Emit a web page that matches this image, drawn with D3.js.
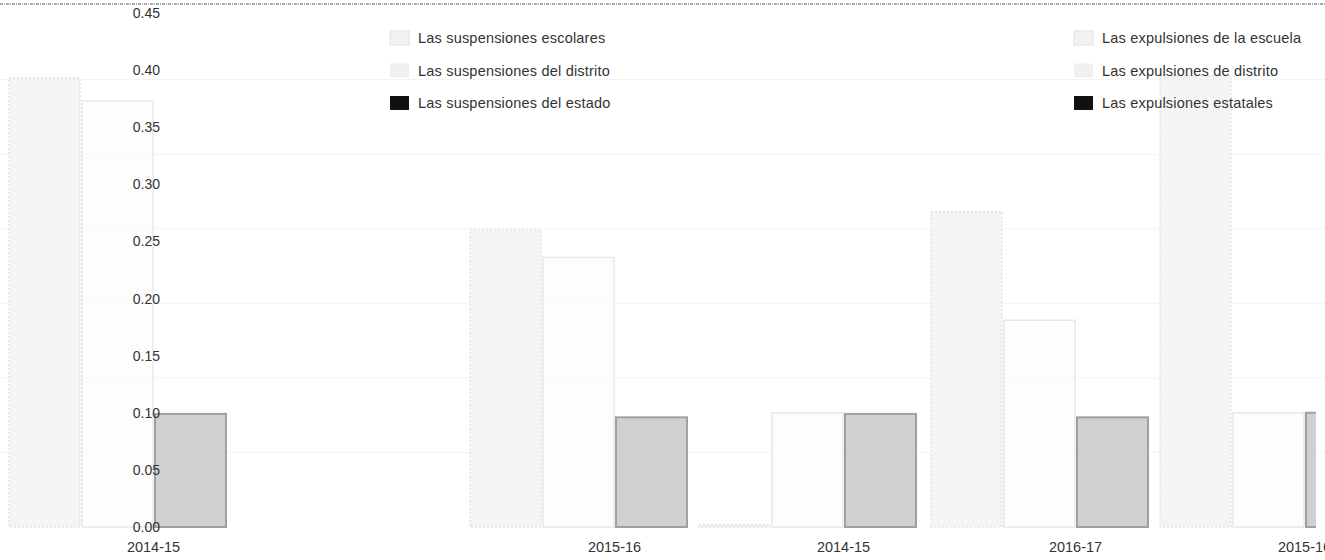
<!DOCTYPE html>
<html>
<head>
<meta charset="utf-8">
<script src="https://cdn.jsdelivr.net/npm/d3@7"></script>
<style>
  html, body { margin: 0; padding: 0; background: #fff; overflow: hidden; }
  svg { display: block; font-family: "Liberation Sans", Arial, sans-serif; }
</style>
</head>
<body>
<svg id="chart" width="1325" height="560"></svg>
<script>
// ---- data ----
const years = ["2014-15", "2015-16", "2016-17"];
const suspensionSeries = ["Las suspensiones escolares", "Las suspensiones del distrito", "Las suspensiones del estado"];
const expulsionSeries = ["Las expulsiones de la escuela", "Las expulsiones de distrito", "Las expulsiones estatales"];
const suspSchool   = [0.393, 0.260, 0.276];
const suspDistrict = [0.373, 0.236, 0.181];
const suspState    = [0.099, 0.096, 0.096];
const expSchool    = [0.002, 0.395, null];
const expDistrict  = [0.100, 0.100, null];
const expState     = [0.099, 0.100, null];
const yTicks = [0, 0.05, 0.10, 0.15, 0.20, 0.25, 0.30, 0.35, 0.40, 0.45];
const gridLevels = [0.05, 0.10, 0.15, 0.20, 0.25, 0.30];

// ---- scales ----
const svg = d3.select("#chart");
const y = d3.scaleLinear().domain([0, 0.45]).range([527, 13]);
const yGrid = d3.scaleLinear().domain([0, 0.35]).range([527, 5]);
const xSusp = d3.scalePoint().domain(years).range([153, 1075]);
const xExp = d3.scalePoint().domain(years).range([843, 1765]);
const inner = d3.scaleBand().domain([0, 1, 2]).range([-145, 74]);

const defs = svg.append("defs");
const pat = defs.append("pattern").attr("id", "speckle").attr("width", 6).attr("height", 6)
  .attr("patternUnits", "userSpaceOnUse");
pat.append("rect").attr("width", 6).attr("height", 6).attr("fill", "#f3f3f3");
pat.append("rect").attr("x", 1).attr("y", 1).attr("width", 1).attr("height", 1).attr("fill", "#e4e4e4");
pat.append("rect").attr("x", 4).attr("y", 3).attr("width", 1).attr("height", 1).attr("fill", "#e8e8e8");
pat.append("rect").attr("x", 2).attr("y", 5).attr("width", 1).attr("height", 1).attr("fill", "#e6e6e6");
defs.append("clipPath").attr("id", "clip").append("rect").attr("x", 0).attr("y", 0).attr("width", 1316).attr("height", 560);

// faint gridlines
svg.append("g").selectAll("line").data(gridLevels).join("line")
  .attr("x1", 0).attr("x2", 1325)
  .attr("y1", d => yGrid(d)).attr("y2", d => yGrid(d))
  .attr("stroke", "#f4f4f4").attr("stroke-width", 1);

const styles = [
  { fill: "url(#speckle)", stroke: "#e2e2e2", dash: "2,2", sw: 1.5, op: 0.8 },
  { fill: "#fbfbfb", stroke: "#e8e8e8", dash: null, sw: 1.5, op: 0.6 },
  { fill: "#d0d0d0", stroke: "#a0a0a0", dash: null, sw: 2, op: 1 }
];

function drawBars(xScale, seriesArrays) {
  const g = svg.append("g").attr("clip-path", "url(#clip)");
  seriesArrays.forEach((vals, si) => {
    const data = years.map((yr, i) => ({ yr, v: vals[i] })).filter(d => d.v != null);
    const st = styles[si];
    g.append("g").selectAll("rect").data(data).join("rect")
      .attr("x", d => xScale(d.yr) + inner(si) + 1)
      .attr("width", inner.bandwidth() - 2)
      .attr("y", d => y(d.v))
      .attr("height", d => y(0) - y(d.v))
      .attr("fill", st.fill)
      .attr("fill-opacity", st.op)
      .attr("stroke", st.stroke)
      .attr("stroke-width", st.sw)
      .attr("stroke-dasharray", st.dash);
  });
}
drawBars(xSusp, [suspSchool, suspDistrict, suspState]);
drawBars(xExp, [expSchool, expDistrict, expState]);

// y axis
const yAxis = svg.append("g").attr("transform", "translate(161,0)")
  .call(d3.axisLeft(y).tickValues(yTicks).tickSize(0).tickPadding(1).tickFormat(d3.format(".2f")));
yAxis.select(".domain").remove();
yAxis.selectAll("text").attr("font-size", 14).attr("fill", "#333").attr("font-family", "Liberation Sans, Arial, sans-serif");

// x axes
[xSusp, xExp].forEach(xs => {
  const ax = svg.append("g").attr("transform", "translate(0,527)")
    .call(d3.axisBottom(xs).tickSize(0).tickPadding(15));
  ax.select(".domain").remove();
  ax.selectAll("text").attr("font-size", 14.5).attr("fill", "#333").attr("font-family", "Liberation Sans, Arial, sans-serif");
});

// top dotted border
svg.append("line").attr("x1", 0).attr("x2", 1325).attr("y1", 4).attr("y2", 4)
  .attr("stroke", "#555").attr("stroke-width", 1).attr("stroke-dasharray", "3,1,1,1");

// legends
const swatchFills = ["url(#speckle)", "#f0f0f0", "#111"];
function legend(x0, names) {
  const g = svg.append("g").attr("transform", `translate(${x0},0)`);
  const rows = g.selectAll("g").data(names).join("g")
    .attr("transform", (d, i) => `translate(0,${38 + i * 32.5})`);
  rows.append("rect").attr("x", 0).attr("y", -7).attr("width", 19).attr("height", 14)
    .attr("fill", (d, i) => swatchFills[i])
    .attr("stroke", (d, i) => i === 0 ? "#e2e2e2" : "none");
  rows.append("text").attr("x", 28).attr("dy", "0.35em")
    .attr("font-size", 14.5).attr("letter-spacing", "0.2px").attr("fill", "#333")
    .text(d => d);
}
legend(390, suspensionSeries);
legend(1074, expulsionSeries);
</script>
</body>
</html>
